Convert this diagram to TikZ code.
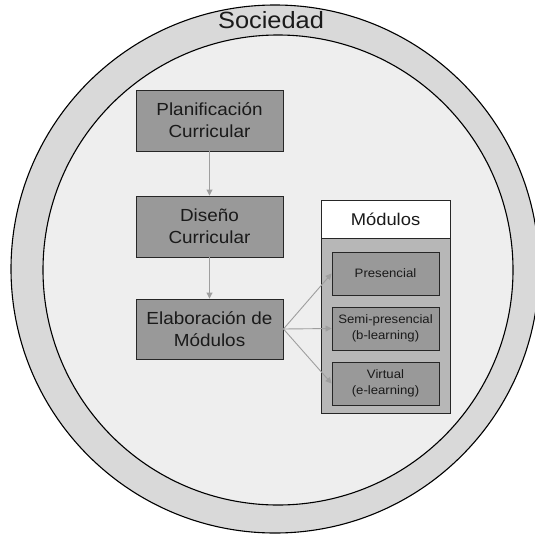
\documentclass[tikz,border=0pt]{standalone}
\usepackage{fontspec}
\setmainfont[FakeStretch=1.08]{Liberation Sans}
\usetikzlibrary{arrows.meta}
\definecolor{ringc}{HTML}{D9D9D9}
\definecolor{innerc}{HTML}{EEEEEE}
\definecolor{boxfill}{HTML}{999999}
\definecolor{contfill}{HTML}{B7B7B7}
\definecolor{arrowc}{HTML}{9E9E9E}
\definecolor{edgec}{HTML}{262626}
\definecolor{textc}{HTML}{1A1A1A}
\begin{document}
\begin{tikzpicture}[x=1pt,y=-1pt,
  bigbox/.style={draw=edgec,line width=0.9pt,fill=boxfill,minimum width=147pt,minimum height=61pt,inner sep=0pt,align=center,font=\fontsize{17.5}{22}\selectfont,text=textc},
  smallbox/.style={draw=edgec,line width=0.9pt,fill=boxfill,minimum width=107pt,minimum height=43pt,inner sep=0pt,align=center,font=\fontsize{12.2}{16}\selectfont,text=textc},
  conn/.style={draw=arrowc,line width=0.9pt,-{Triangle[width=6pt,length=6pt]}}]
\useasboundingbox (0,0) rectangle (535,535);
\node[circle,draw=black,line width=1.1pt,fill=ringc,minimum size=528pt,inner sep=0pt] (outer) at (275,269) {};
\node[circle,draw=black,line width=1.1pt,fill=innerc,minimum size=470pt,inner sep=0pt] (inner) at (278,270) {};
\node[anchor=base,font=\fontsize{23.5}{28}\selectfont,text=textc,inner sep=0pt] (soc) at (271,28.5) {Sociedad};
\node[bigbox] (plan) at (209.5,120.5) {Planificación\\Curricular};
\node[bigbox] (dis) at (209.5,226.5) {Diseño\\Curricular};
\node[bigbox,minimum height=60pt] (elab) at (209.5,329) {Elaboración de\\Módulos};
\node[draw=edgec,line width=0.9pt,fill=contfill,minimum width=129pt,minimum height=213pt,inner sep=0pt] (cont) at (385.5,306.5) {};
\node[draw=edgec,line width=0.9pt,fill=white,minimum width=129pt,minimum height=38pt,inner sep=0pt,font=\fontsize{17}{20}\selectfont,text=textc] (head) at (385.5,219) {Módulos};
\node[smallbox] (pres) at (385.5,273.5) {Presencial};
\node[smallbox] (semi) at (385.5,328.5) {Semi-presencial\\(b-learning)};
\node[smallbox] (virt) at (385.5,383.5) {Virtual\\(e-learning)};
\draw[conn] (plan) -- (dis);
\draw[conn] (dis) -- (elab);
\draw[conn] (elab.east) -- (pres.west);
\draw[conn] (elab.east) -- (semi.west);
\draw[conn] (elab.east) -- (virt.west);
\end{tikzpicture}
\end{document}
